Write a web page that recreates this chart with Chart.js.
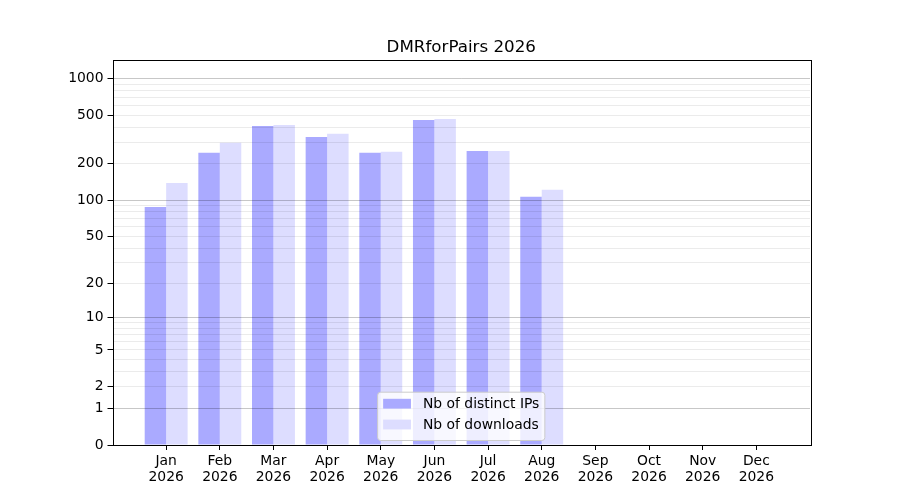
<!DOCTYPE html>
<html>
<head>
<meta charset="utf-8">
<title>DMRforPairs 2026</title>
<script src="https://cdn.jsdelivr.net/npm/chart.js@4.4.1/dist/chart.umd.min.js"></script>
<style>
    html, body { margin: 0; padding: 0; background: #fff; }
    #wrap { width: 900px; height: 500px; }
</style>
</head>
<body>
<div id="wrap"><canvas id="chart" width="900" height="500"></canvas></div>
<script>
// Data
const chartTitle = 'DMRforPairs 2026';
const year = '2026';
const months = ['Jan', 'Feb', 'Mar', 'Apr', 'May', 'Jun', 'Jul', 'Aug', 'Sep', 'Oct', 'Nov', 'Dec'];
const ipCounts = [88, 246, 409, 332, 246, 458, 255, 107];
const downloadCounts = [139, 297, 417, 352, 251, 467, 255, 122];
const yLabels = [0, 1, 2, 5, 10, 20, 50, 100, 200, 500, 1000];
const yMajorGrid = [1, 10, 100, 1000];
const yMinorGrid = [2, 3, 4, 5, 6, 7, 8, 9, 20, 30, 40, 50, 60, 70, 80, 90, 200, 300, 400, 500, 600, 700, 800, 900];
const yMax = 1420;

const FONT = '"DejaVu Sans", sans-serif';

// y axis: log10(1 + v) spacing, so 0 sits at the bottom
class Log1pScale extends Chart.LinearScale {
    _t(v) { return Math.log10(1 + v); }
    getPixelForValue(value) {
        if (value === null || isNaN(value)) return NaN;
        const t0 = this._t(this.min), t1 = this._t(this.max);
        return this.getPixelForDecimal((this._t(value) - t0) / (t1 - t0));
    }
    getValueForPixel(pixel) {
        const t0 = this._t(this.min), t1 = this._t(this.max);
        return Math.pow(10, t0 + this.getDecimalForPixel(pixel) * (t1 - t0)) - 1;
    }
}
Log1pScale.id = 'log1p';
Log1pScale.defaults = {};
Chart.register(Log1pScale);

const allYTicks = [...new Set([...yLabels, ...yMajorGrid, ...yMinorGrid])].sort((a, b) => a - b);

// Frame, title and legend drawn like the original
const decorations = {
    id: 'decorations',
    afterDraw(chart) {
        const { ctx, chartArea: a } = chart;
        ctx.save();

        // title
        ctx.fillStyle = '#000';
        ctx.font = '16.7px ' + FONT;
        ctx.textAlign = 'center';
        ctx.textBaseline = 'alphabetic';
        ctx.fillText(chartTitle, (a.left + a.right) / 2, 51.5);

        // legend, lower center inside the axes
        ctx.font = '13.9px ' + FONT;
        const sets = chart.data.datasets;
        const textW = Math.max(...sets.map(d => ctx.measureText(d.label).width));
        const pad = 5.5, handle = 27.8, gap = 12, rowH = 20.8, h = 48.3;
        const w = pad + handle + gap + textW + pad;
        const x0 = (a.left + a.right) / 2 - w / 2;
        const y0 = a.bottom - 4.5 - h;
        ctx.beginPath();
        ctx.roundRect(x0, y0, w, h, 3);
        ctx.fillStyle = 'rgba(255,255,255,0.8)';
        ctx.fill();
        ctx.strokeStyle = '#cccccc';
        ctx.lineWidth = 1;
        ctx.stroke();
        ctx.textAlign = 'left';
        ctx.textBaseline = 'middle';
        sets.forEach((d, i) => {
            const cy = y0 + 11.5 + i * rowH;
            ctx.fillStyle = d.backgroundColor;
            ctx.fillRect(x0 + pad, cy - 4.9, handle, 9.8);
            ctx.fillStyle = '#000';
            ctx.fillText(d.label, x0 + pad + handle + gap, cy + 0.5);
        });

        // axes frame
        ctx.strokeStyle = '#000';
        ctx.lineWidth = 1;
        ctx.strokeRect(Math.round(a.left) + 0.5, Math.round(a.top) + 0.5,
            Math.round(a.right - a.left), Math.round(a.bottom - a.top));
        ctx.restore();
    }
};

const ctx = document.getElementById('chart').getContext('2d');
new Chart(ctx, {
    type: 'bar',
    data: {
        datasets: [
            {
                label: 'Nb of distinct IPs',
                data: months.map((m, i) => ({ x: i, y: ipCounts[i] ?? null })),
                backgroundColor: '#aaaaff',
                borderWidth: 0
            },
            {
                label: 'Nb of downloads',
                data: months.map((m, i) => ({ x: i, y: downloadCounts[i] ?? null })),
                backgroundColor: '#ddddff',
                borderWidth: 0
            }
        ]
    },
    options: {
        responsive: false,
        animation: false,
        devicePixelRatio: 1,
        categoryPercentage: 0.8,
        barPercentage: 1.0,
        layout: { padding: { left: 0, top: 60, right: 90, bottom: 0 } },
        plugins: {
            legend: { display: false },
            title: { display: false },
            tooltip: { enabled: false }
        },
        scales: {
            x: {
                type: 'linear',
                min: -1,
                max: 12,
                offset: false,
                afterBuildTicks: s => { s.ticks = months.map((m, i) => ({ value: i })); },
                afterFit: s => { s.height = 55; },
                ticks: {
                    autoSkip: false,
                    maxRotation: 0,
                    padding: 4,
                    color: '#000',
                    font: { family: FONT, size: 13.9, lineHeight: 1.1 },
                    callback: v => [months[v], year]
                },
                grid: { offset: false, drawOnChartArea: false, tickLength: 5, tickColor: '#000' },
                border: { display: false }
            },
            y: {
                type: 'log1p',
                min: 0,
                max: yMax,
                afterBuildTicks: s => { s.ticks = allYTicks.map(v => ({ value: v })); },
                afterFit: s => { s.width = 112.5; },
                ticks: {
                    autoSkip: false,
                    padding: 4,
                    color: '#000',
                    font: { family: FONT, size: 13.9 },
                    callback: v => yLabels.includes(v) ? String(v) : ''
                },
                grid: {
                    z: 1,
                    tickLength: 5,
                    color: c => {
                        const v = c.tick ? c.tick.value : 0;
                        if (yMajorGrid.includes(v)) return 'rgba(0,0,0,0.22)';
                        if (yMinorGrid.includes(v)) return 'rgba(0,0,0,0.08)';
                        return 'rgba(0,0,0,0)';
                    },
                    tickColor: c => (c.tick && yLabels.includes(c.tick.value)) ? '#000' : 'rgba(0,0,0,0)'
                },
                border: { display: false }
            }
        }
    },
    plugins: [decorations]
});
</script>
</body>
</html>
